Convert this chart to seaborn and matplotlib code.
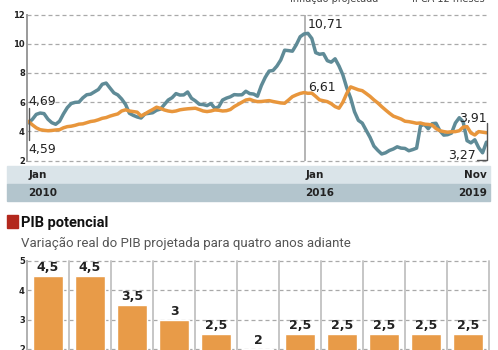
import numpy as np
import pandas as pd
import seaborn as sns
import matplotlib.pyplot as plt
from matplotlib import font_manager
from matplotlib.patches import Rectangle
from matplotlib.transforms import blended_transform_factory

# IPCA acumulado em 12 meses, jan/2010 a nov/2019
ipca_12m = [
    4.59, 4.83, 5.17, 5.26, 5.22, 4.84, 4.60, 4.49, 4.70, 5.20, 5.63, 5.91,
    5.99, 6.01, 6.30, 6.51, 6.55, 6.71, 6.87, 7.23, 7.31, 6.97, 6.64, 6.50,
    6.22, 5.85, 5.24, 5.10, 4.99, 4.92, 5.20, 5.24, 5.28, 5.45, 5.53, 5.84,
    6.15, 6.31, 6.59, 6.49, 6.50, 6.70, 6.27, 6.09, 5.86, 5.84, 5.77, 5.91,
    5.59, 5.68, 6.15, 6.28, 6.37, 6.52, 6.50, 6.51, 6.75, 6.59, 6.56, 6.41,
    7.14, 7.70, 8.13, 8.17, 8.47, 8.89, 9.56, 9.53, 9.49, 9.93, 10.48, 10.67,
    10.71, 10.36, 9.39, 9.28, 9.32, 8.84, 8.74, 8.97, 8.48, 7.87, 6.99, 6.29,
    5.35, 4.76, 4.57, 4.08, 3.60, 3.00, 2.71, 2.46, 2.54, 2.70, 2.80, 2.95,
    2.86, 2.84, 2.68, 2.76, 2.86, 4.39, 4.48, 4.19, 4.53, 4.56, 4.05, 3.75,
    3.78, 3.89, 4.58, 4.94, 4.66, 3.37, 3.22, 3.43, 2.89, 2.54, 3.27,
]

# Inflação projetada
inflacao_projetada = [
    4.69, 4.45, 4.25, 4.12, 4.08, 4.05, 4.07, 4.10, 4.12, 4.25, 4.33, 4.36,
    4.42, 4.50, 4.52, 4.60, 4.68, 4.72, 4.80, 4.90, 4.95, 5.05, 5.13, 5.20,
    5.40, 5.48, 5.40, 5.36, 5.32, 5.06, 5.20, 5.36, 5.50, 5.66, 5.58, 5.47,
    5.40, 5.36, 5.40, 5.48, 5.52, 5.55, 5.57, 5.59, 5.50, 5.40, 5.36, 5.40,
    5.47, 5.45, 5.40, 5.42, 5.50, 5.70, 5.85, 6.00, 6.15, 6.20, 6.10, 6.04,
    6.05, 6.08, 6.11, 6.05, 6.00, 5.95, 5.93, 6.15, 6.38, 6.50, 6.60, 6.66,
    6.61, 6.62, 6.40, 6.16, 6.10, 6.04, 5.90, 5.70, 5.59, 6.00, 6.60, 7.05,
    6.95, 6.85, 6.79, 6.60, 6.40, 6.16, 5.95, 5.70, 5.47, 5.25, 5.05, 4.95,
    4.85, 4.70, 4.67, 4.62, 4.56, 4.58, 4.50, 4.48, 4.44, 4.20, 4.05, 3.99,
    3.95, 3.98, 3.99, 4.05, 4.30, 4.33, 3.90, 3.76, 3.99, 3.95, 3.91,
]

pib_anos = ['2010', '2011', '2012', '2013', '2014', '2015',
            '2016', '2017', '2018', '2019', '2020']
pib_potencial = [4.5, 4.5, 3.5, 3, 2.5, 2, 2.5, 2.5, 2.5, 2.5, 2.5]
pib_rotulos = ['4,5', '4,5', '3,5', '3', '2,5', '2', '2,5', '2,5', '2,5', '2,5', '2,5']

BLUE = '#5f8b97'
ORANGE = '#e8963c'
BAR = '#e89b48'
GRID = '#a9a9a9'
DARK = '#222222'

sns.set_theme(style='white')
plt.rcParams['font.family'] = ['DejaVu Sans']

names = {f.name for f in font_manager.fontManager.ttflist}
narrow = 'Liberation Sans Narrow' if 'Liberation Sans Narrow' in names else 'Roboto'

W, H = 498, 350
fig = plt.figure(figsize=(W / 100, H / 100), dpi=100)


def box(x0, y0, x1, y1):
    return [x0 / W, 1 - y1 / H, (x1 - x0) / W, (y1 - y0) / H]


# ---- linhas de inflação ----
ax = fig.add_axes(box(27, 14.5, 488, 160.7))
df = pd.DataFrame({'mes': np.arange(len(ipca_12m)),
                   'ipca': ipca_12m, 'proj': inflacao_projetada})

for v in [2, 4, 6, 8, 10, 12]:
    ax.axhline(v, color=GRID, lw=0.9, ls=(0, (3.2, 2.4)), zorder=0, clip_on=False)
ax.axvline(71.3, color='#a0a0a0', lw=1.1, zorder=0)

sns.lineplot(data=df, x='mes', y='ipca', color=BLUE, lw=2.5, ax=ax)
sns.lineplot(data=df, x='mes', y='proj', color=ORANGE, lw=2.5, ax=ax)

ax.set_xlim(-0.39, 118.4)
ax.set_ylim(2, 12)
ax.set_yticks([2, 4, 6, 8, 10, 12])
ax.set_xticks([])
ax.set_xlabel('')
ax.set_ylabel('')
ax.tick_params(axis='y', length=0, pad=1.5, labelsize=6, labelcolor=DARK)
for t in ax.get_yticklabels():
    t.set_fontweight('bold')
for s in ['top', 'right', 'bottom']:
    ax.spines[s].set_visible(False)
ax.spines['left'].set_color('#9a9a9a')
ax.spines['left'].set_linewidth(1.4)

ann = dict(fontsize=9, color=DARK, va='center')
ax.text(-0.1, 6.05, '4,69', ha='left', **ann)
ax.text(-0.1, 2.8, '4,59', ha='left', **ann)
ax.plot([0.15, 0.15], [3.4, 5.6], color='#555555', lw=1)
ax.text(72, 11.3, '10,71', ha='left', **ann)
ax.text(72, 7.03, '6,61', ha='left', **ann)
ax.text(118.1, 4.92, '3,91', ha='right', **ann)
ax.text(115.3, 2.36, '3,27', ha='right', **ann)
ax.plot([115.5, 118.1, 118.1], [2.05, 2.05, 4.6], color='#555555', lw=1, clip_on=False)

# legenda cortada no topo
fig.text(290 / W, 1 - 2 / H, 'Inflação projetada', fontsize=7, color='#444444',
         va='baseline', ha='left')
fig.text(485 / W, 1 - 2 / H, 'IPCA 12 meses', fontsize=7, color='#444444',
         va='baseline', ha='right')

# faixas de datas
fig.patches.append(Rectangle((7 / W, 1 - 184 / H), 483 / W, 18 / H,
                             transform=fig.transFigure, color='#dae4e9', zorder=-1))
fig.patches.append(Rectangle((7 / W, 1 - 201 / H), 483 / W, 17 / H,
                             transform=fig.transFigure, color='#b3c5cd', zorder=-1))
tr = blended_transform_factory(ax.transData, fig.transFigure)
band = dict(fontsize=7.5, fontweight='bold', color=DARK, va='center',
            transform=tr, zorder=5)
ax.text(-0.1, 1 - 175 / H, 'Jan', ha='left', **band)
ax.text(-0.1, 1 - 192.5 / H, '2010', ha='left', **band)
ax.text(71.3, 1 - 175 / H, 'Jan', ha='left', **band)
ax.text(71.3, 1 - 192.5 / H, '2016', ha='left', **band)
ax.text(118.2, 1 - 175 / H, 'Nov', ha='right', **band)
ax.text(118.2, 1 - 192.5 / H, '2019', ha='right', **band)

# ---- PIB potencial ----
fig.patches.append(Rectangle((7 / W, 1 - 228 / H), 11 / W, 13 / H,
                             transform=fig.transFigure, color='#b3281d', zorder=1))
fig.text(21 / W, 1 - 227 / H, 'PIB potencial', fontsize=10.5, fontweight='bold',
         family=narrow, color='#111111', va='baseline', ha='left')
fig.text(21 / W, 1 - 246.5 / H, 'Variação real do PIB projetada para quatro anos adiante',
         fontsize=9.5, family=narrow, color='#555555', va='baseline', ha='left')

ax2 = fig.add_axes(box(27, 261, 489, 350))
for v in [2, 3, 4, 5]:
    ax2.axhline(v, color=GRID, lw=0.9, ls=(0, (3.2, 2.4)), zorder=0, clip_on=False)
for i in range(len(pib_anos)):
    ax2.axvline(i + 0.5, color='#c6c6c6', lw=1.4, zorder=0, clip_on=False)

sns.barplot(x=pib_anos, y=pib_potencial, color=BAR, saturation=1, width=0.72,
            ax=ax2, zorder=2)
ax2.bar_label(ax2.containers[0], labels=pib_rotulos, padding=1.5, fontsize=9,
              fontweight='bold', color=DARK)
ax2.set_xlim(-0.5, len(pib_anos) - 0.5)
ax2.set_ylim(2 - 1 / 29.3, 5)
ax2.set_yticks([2, 3, 4, 5])
ax2.set_xticks([])
ax2.tick_params(axis='y', length=0, pad=1.5, labelsize=6, labelcolor=DARK)
for t in ax2.get_yticklabels():
    t.set_fontweight('bold')
for s in ['top', 'right', 'bottom']:
    ax2.spines[s].set_visible(False)
ax2.spines['left'].set_color('#b0b0b0')
ax2.spines['left'].set_linewidth(1.4)

fig.savefig('out.png', dpi=100)
